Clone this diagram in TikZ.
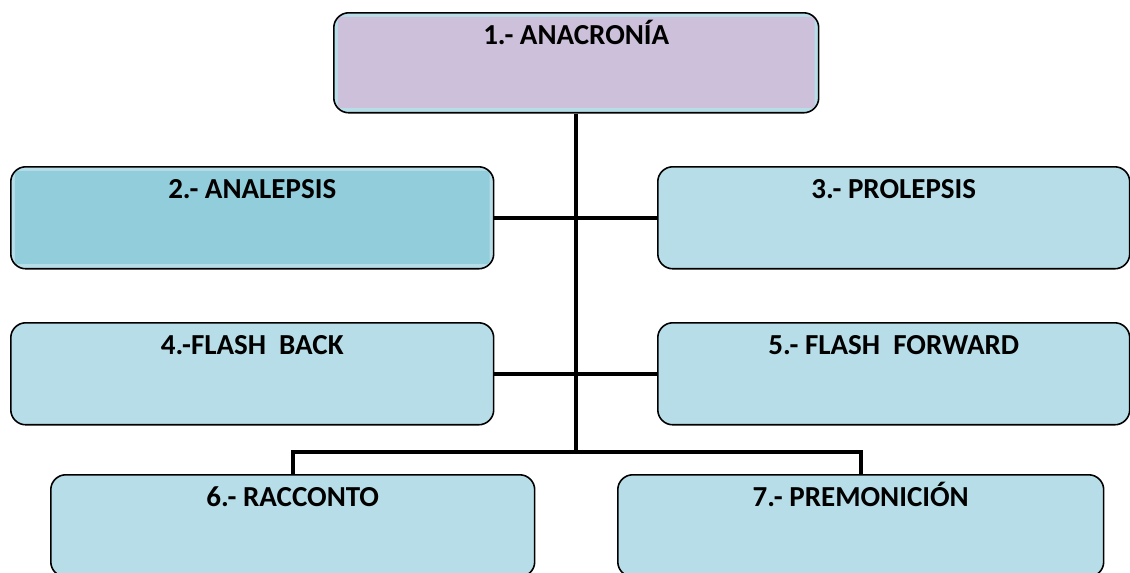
\documentclass[tikz,border=0pt]{standalone}
\usepackage{fontspec}
\setmainfont{Carlito}
\usepackage{xcolor}
\definecolor{lavender-soft}{HTML}{CCC0DA}
\definecolor{aqua-light}{HTML}{B7DEE8}
\definecolor{aqua-mid}{HTML}{92CDDC}
\usepackage{tikz}
\usetikzlibrary{positioning}

\begin{document}
\begin{tikzpicture}[x=0.02cm, y=-0.02cm,
    concept box/.style={draw=black, line width=0.9pt, rounded corners=0.3cm, fill=aqua-light, anchor=north west, inner sep=0pt, minimum width=#1, text height=0.64cm, text depth=1.4cm, font=\bfseries\fontsize{16.5}{18}\selectfont},
    banded/.style={path picture={\fill[#1, rounded corners=1pt]
        ([shift={(0.08cm,-0.08cm)}]path picture bounding box.north west) rectangle
        ([shift={(-0.08cm,0.1cm)}]path picture bounding box.south east);}},
    link line/.style={draw=black, line width=2.4pt}
]

% Page frame
\clip (0,0) rectangle (1130,572);
\useasboundingbox (0,0) rectangle (1130,572);

% Root box
\node[concept box=9.7cm, text depth=1.36cm, banded=lavender-soft] (anacronia) at (333,12) {1.- ANACRONÍA};

% Second row
\node[concept box=9.66cm, banded=aqua-mid] (analepsis) at (10,166) {2.- ANALEPSIS};
\node[concept box=9.44cm] (prolepsis) at (657,166) {3.- PROLEPSIS};

% Third row
\node[concept box=9.66cm, text depth=1.4cm] (flashback) at (10,322) {4.-FLASH~~BACK};
\node[concept box=9.44cm, text depth=1.4cm] (flashforward) at (657,322) {5.- FLASH~~FORWARD};

% Bottom row
\node[concept box=9.68cm] (racconto) at (50,474) {6.- RACCONTO};
\node[concept box=9.72cm] (premonicion) at (617,474) {7.- PREMONICIÓN};

% Connectors
\coordinate (split) at (anacronia.south |- 0,452);
\draw[link line] (anacronia.south) -- (split);
\draw[link line] (analepsis.east) -- (prolepsis.west);
\draw[link line] (flashback.east) -- (flashforward.west);
\draw[link line] (racconto.north) |- (split) -| (premonicion.north);

\end{tikzpicture}
\end{document}
